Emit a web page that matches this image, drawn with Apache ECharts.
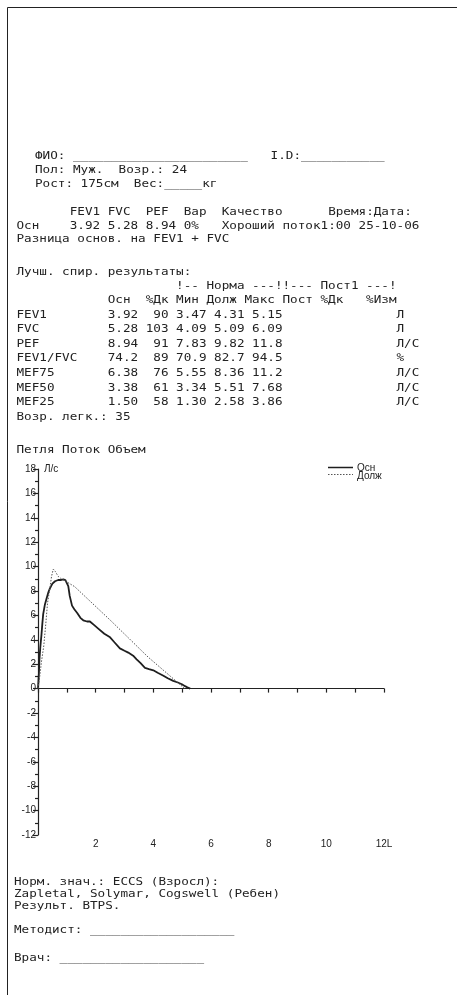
<!DOCTYPE html>
<html>
<head>
<meta charset="utf-8">
<script src="https://cdn.jsdelivr.net/npm/echarts@6/dist/echarts.min.js"></script>
<style>
html, body { margin: 0; padding: 0; background: #fff; }
#main { width: 457px; height: 995px; }
</style>
</head>
<body>
<div id="main"></div>
<script>
// кривая поток-объем, основная попытка (Л, Л/с)
var volOsn = [0, 0.03, 0.05, 0.08, 0.12, 0.15, 0.18, 0.24, 0.30, 0.36, 0.41, 0.50, 0.59, 0.70, 0.78, 0.88, 0.95, 1.00, 1.05, 1.10, 1.18, 1.26, 1.36, 1.47, 1.57, 1.70, 1.80, 1.95, 2.10, 2.30, 2.50, 2.65, 2.84, 3.00, 3.13, 3.30, 3.42, 3.55, 3.71, 3.85, 4.00, 4.15, 4.35, 4.50, 4.69, 4.85, 4.99, 5.10, 5.18, 5.28];
var flowOsn = [0, 1.2, 2.4, 3.4, 4.4, 5.3, 6.1, 6.9, 7.4, 7.9, 8.2, 8.6, 8.8, 8.9, 8.9, 8.95, 8.9, 8.8, 8.4, 7.6, 6.8, 6.5, 6.2, 5.8, 5.6, 5.5, 5.5, 5.2, 4.9, 4.5, 4.2, 3.8, 3.3, 3.1, 2.95, 2.7, 2.4, 2.1, 1.7, 1.6, 1.5, 1.3, 1.05, 0.85, 0.63, 0.5, 0.36, 0.2, 0.1, 0];
// должная кривая
var volDolzh = [0, 0.06, 0.12, 0.20, 0.27, 0.33, 0.41, 0.47, 0.53, 0.60, 0.70, 0.78, 1.27, 2.55, 3.82, 5.09];
var flowDolzh = [0, 1.0, 2.2, 3.5, 5.3, 7.0, 8.2, 9.2, 9.8, 9.6, 9.2, 9.05, 8.36, 5.51, 2.58, 0];

// таблица результатов
var paramNames = ['FEV1', 'FVC', 'PEF', 'FEV1/FVC', 'MEF75', 'MEF50', 'MEF25'];
var valOsn = ['3.92', '5.28', '8.94', '74.2', '6.38', '3.38', '1.50'];
var pctDk = ['90', '103', '91', '89', '76', '61', '58'];
var valMin = ['3.47', '4.09', '7.83', '70.9', '5.55', '3.34', '1.30'];
var valDolzh = ['4.31', '5.09', '9.82', '82.7', '8.36', '5.51', '2.58'];
var valMax = ['5.15', '6.09', '11.8', '94.5', '11.2', '7.68', '3.86'];
var units = ['Л', 'Л', 'Л/С', '%', 'Л/С', 'Л/С', 'Л/С'];
var tableHead = ['Осн', '%Дк', 'Мин', 'Долж', 'Макс', 'Пост', '%Дк', '%Изм'];

var seriesNames = ['Осн', 'Долж'];

var INK = '#222';
var MONO = '"DejaVu Sans Mono", "Liberation Mono", monospace';
var SANS = '"Liberation Sans", Arial, sans-serif';
var CW = 7.6;             // ширина знака принтера
var SX = CW / 6.02;       // растяжка моноширинного шрифта 10px
var X0 = 16.5;

function txt(x, y, s, align) {
	return {
		type: 'text', x: x, y: y, scaleX: SX, silent: true,
		style: { text: s, font: '10px ' + MONO, fill: INK, verticalAlign: 'middle', align: align || 'left' }
	};
}
function rep(ch, n) { return new Array(n + 1).join(ch); }
function col(c) { return X0 + c * CW; }

var g = [];
// рамка
g.push({ type: 'rect', silent: true, shape: { x: 7.5, y: 7.5, width: 470, height: 1000 }, style: { fill: 'none', stroke: '#222', lineWidth: 1 } });

g.push(txt(35, 156, 'ФИО: ' + rep('_', 23) + '   I.D:' + rep('_', 11)));
g.push(txt(35, 170, 'Пол: Муж.  Возр.: 24'));
g.push(txt(35, 184, 'Рост: 175см  Вес:_____кг'));

g.push(txt(X0, 212, '       FEV1 FVC  PEF  Вар  Качество      Время:Дата:'));
g.push(txt(X0, 226, 'Осн    3.92 5.28 8.94 0%   Хороший поток1:00 25-10-06'));
g.push(txt(X0, 239, 'Разница основ. на FEV1 + FVC'));

g.push(txt(X0, 272, 'Лучш. спир. результаты:'));
g.push(txt(col(21), 286, '!-- Норма ---!!--- Пост1 ---!'));
var headCol = [12, 17, 21, 25, 30, 35, 40, 46];
tableHead.forEach(function (h, i) { g.push(txt(col(headCol[i]), 300, h)); });

var rowY0 = 315, rowStep = 14.6;
paramNames.forEach(function (name, i) {
	var y = rowY0 + i * rowStep;
	g.push(txt(col(0), y, name));
	g.push(txt(col(12), y, valOsn[i]));
	g.push(txt(col(20), y, pctDk[i], 'right'));
	g.push(txt(col(21), y, valMin[i]));
	g.push(txt(col(26), y, valDolzh[i]));
	g.push(txt(col(31), y, valMax[i]));
	g.push(txt(col(50), y, units[i]));
});
g.push(txt(X0, rowY0 + 7 * rowStep, 'Возр. легк.: 35'));

g.push(txt(X0, 450, 'Петля Поток Объем'));
g.push({ type: 'text', x: 44, y: 469, silent: true, style: { text: 'Л/с', font: '10px ' + SANS, fill: INK, verticalAlign: 'middle' } });

// легенда
g.push({ type: 'line', silent: true, shape: { x1: 328, y1: 467.5, x2: 353, y2: 467.5 }, style: { stroke: '#1e1e1e', lineWidth: 1.5 } });
g.push({ type: 'line', silent: true, shape: { x1: 328, y1: 474.5, x2: 353, y2: 474.5 }, style: { stroke: '#555', lineWidth: 1, lineDash: [1.5, 1.5] } });
g.push({ type: 'text', x: 357, y: 468, silent: true, style: { text: seriesNames[0], font: '10px ' + SANS, fill: INK, verticalAlign: 'middle' } });
g.push({ type: 'text', x: 357, y: 476, silent: true, style: { text: seriesNames[1], font: '10px ' + SANS, fill: INK, verticalAlign: 'middle' } });

g.push(txt(14, 882, 'Норм. знач.: ECCS (Взросл):'));
g.push(txt(14, 894, 'Zapletal, Solymar, Cogswell (Ребен)'));
g.push(txt(14, 906, 'Результ. BTPS.'));
g.push(txt(14, 930, 'Методист: ' + rep('_', 19)));
g.push(txt(14, 958, 'Врач: ' + rep('_', 19)));

var chart = echarts.init(document.getElementById('main'));
var axisFont = { fontSize: 10, color: INK, fontFamily: SANS };
chart.setOption({
	animation: false,
	backgroundColor: '#fff',
	grid: { left: 38, right: 73, top: 469, bottom: 160 },
	xAxis: {
		type: 'value', min: 0, max: 12, interval: 2,
		axisLine: { onZero: true, lineStyle: { color: '#222', width: 1.2 } },
		axisTick: { show: true, length: 4, lineStyle: { color: '#222', width: 1.2 } },
		minorTick: { show: true, splitNumber: 2, length: 4, lineStyle: { color: '#222', width: 1.2 } },
		splitLine: { show: false },
		axisLabel: Object.assign({ margin: 4, formatter: function (v) { return v === 0 ? '' : (v === 12 ? '12L' : v); } }, axisFont)
	},
	yAxis: {
		type: 'value', min: -12, max: 18, interval: 2,
		axisLine: { show: true, lineStyle: { color: '#222', width: 1.2 } },
		axisTick: { show: true, length: 5, lineStyle: { color: '#222', width: 1.2 } },
		minorTick: { show: true, splitNumber: 2, length: 3, lineStyle: { color: '#222', width: 1.2 } },
		splitLine: { show: false },
		axisLabel: Object.assign({ margin: 2 }, axisFont)
	},
	series: [{
		name: seriesNames[0], type: 'line', symbol: 'none',
		lineStyle: { color: '#1e1e1e', width: 1.8 },
		data: volOsn.map(function (v, i) { return [v, flowOsn[i]]; })
	}, {
		name: seriesNames[1], type: 'line', symbol: 'none',
		lineStyle: { color: '#555', width: 1, type: [1.5, 1.5] },
		data: volDolzh.map(function (v, i) { return [v, flowDolzh[i]]; })
	}],
	graphic: g
});
</script>
</body>
</html>
